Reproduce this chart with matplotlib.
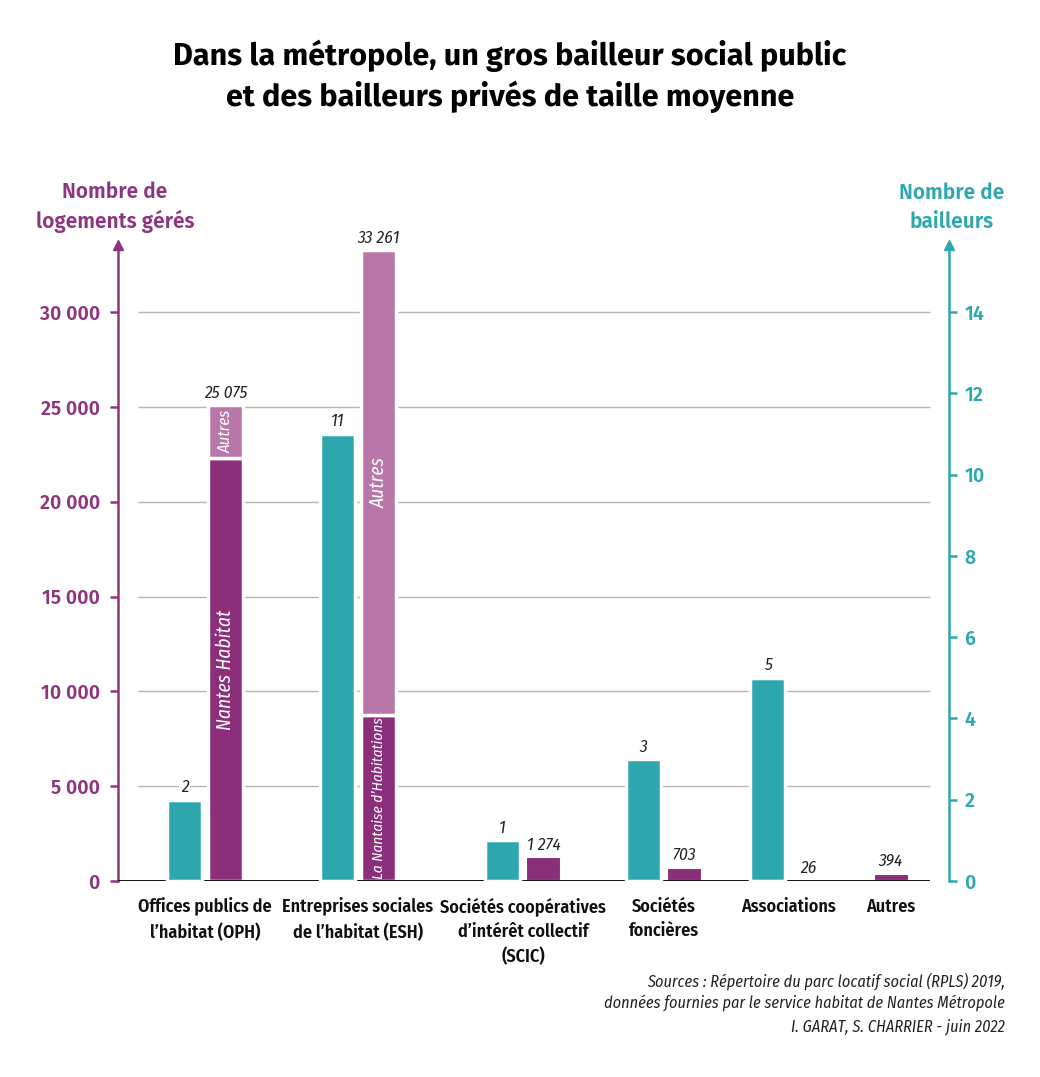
import matplotlib; matplotlib.use("Agg")
import matplotlib.pyplot as plt

# --- data ---
categories = ["Offices publics de\nl'habitat (OPH)", "Entreprises sociales\nde l'habitat (ESH)",
              "Sociétés coopératives\nd'intérêt collectif\n(SCIC)", "Sociétés\nfoncières",
              "Associations", "Autres"]
categories = [c.replace("'", "\u2019") for c in categories]
nb_bailleurs = [2, 11, 1, 3, 5, None]
logements_total = [25075, 33261, 1274, 703, 26, 394]
logements_principal = [22300, 8750, None, None, None, None]   # Nantes Habitat / La Nantaise
principal_names = ["Nantes Habitat", "La Nantaise d\u2019Habitations"]
nb_labels = ["2", "11", "1", "3", "5", ""]
log_labels = ["25 075", "33 261", "1 274", "703", "26", "394"]

# layout (pixel-like x units)
centers = [205, 358, 523, 664, 788, 891]
BW = 35
GAP = 6
TEAL = "#2ea8ae"
PURPLE = "#8b2f7b"
LIGHT = "#b877a8"
AXPURPLE = "#8e3581"
RATIO = 30000 / 14  # logements per bailleur on the shared scale

COND = ["Fira Sans Condensed", "DejaVu Sans"]
AXF = ["Fira Sans", "Lato", "DejaVu Sans"]

fig = plt.figure(figsize=(10.4, 10.77), dpi=100)
ax = fig.add_axes([118 / 1040, 1 - 881 / 1077, (949 - 118) / 1040, (881 - 245) / 1077])
ax2 = ax.twinx()
YMAX = (881 - 245) / (569 / 30000)
ax.set_ylim(0, YMAX)
ax2.set_ylim(0, YMAX / RATIO)
ax.set_xlim(118, 949)

# grid + baseline
for v in range(5000, 30001, 5000):
    ax.hlines(v, 138, 930, color="#b5b5b5", lw=1, zorder=0)
ax.hlines(0, 118, 930, color="black", lw=1.3, zorder=5)

lab_kw = dict(style="italic", fontweight="normal", family=COND, color="#222222", fontsize=12.5)
for i, c in enumerate(centers):
    xt = c - GAP / 2 - BW / 2
    xp = c + GAP / 2 + BW / 2
    if nb_bailleurs[i] is not None:
        ax2.bar(xt, nb_bailleurs[i], width=BW, color=TEAL, edgecolor="white", lw=2.5, zorder=3)
        ax2.text(xt, nb_bailleurs[i] + 0.1, nb_labels[i], ha="center", va="bottom", zorder=4,
                 bbox=dict(fc="white", ec="none", pad=1), **lab_kw)
    if i == len(centers) - 1:
        xp = c
    tot = logements_total[i]
    main = logements_principal[i]
    if main is not None:
        ax.bar(xp, main, width=BW, color=PURPLE, edgecolor="white", lw=2.5, zorder=3)
        ax.bar(xp, tot - main, bottom=main, width=BW, color=LIGHT, edgecolor="white", lw=2.5, zorder=3)
        ax.text(xp, main / 2, principal_names[i], rotation=90, ha="center", va="center",
                color="white", style="italic", fontsize=14 if i == 0 else 11, family=COND, zorder=4)
        ax.text(xp, main + (tot - main) / 2, "Autres", rotation=90, ha="center", va="center",
                color="white", style="italic", fontsize=14 if i == 1 else 12, family=COND, zorder=4)
    else:
        ax.bar(xp, tot, width=BW, color=PURPLE, edgecolor="white", lw=1.5, zorder=3)
    ax.text(xp, tot + 200, log_labels[i], ha="center", va="bottom", zorder=4,
            bbox=dict(fc="white", ec="none", pad=1), **lab_kw)
    ax.text(c, -880, categories[i], ha="center", va="top", fontsize=13, fontweight="semibold",
            color="#111111", linespacing=1.45, family=COND)

# spines & ticks
for s in ["top", "bottom", "right"]:
    ax.spines[s].set_visible(False)
for s in ["top", "bottom", "left"]:
    ax2.spines[s].set_visible(False)
ax.spines["left"].set_color(AXPURPLE); ax.spines["left"].set_linewidth(1.8)
ax2.spines["right"].set_color(TEAL); ax2.spines["right"].set_linewidth(1.8)
ax.set_xticks([])
ax.set_yticks(range(0, 30001, 5000))
ax.set_yticklabels([f"{v:,}".replace(",", " ") for v in range(0, 30001, 5000)])
ax.tick_params(axis="y", colors=AXPURPLE, length=6, width=1.8, pad=7, labelsize=14)
ax2.set_yticks(range(0, 15, 2))
ax2.tick_params(axis="y", colors=TEAL, length=6, width=1.8, pad=5, labelsize=14)
for lab in ax.get_yticklabels() + ax2.get_yticklabels():
    lab.set_fontweight("semibold"); lab.set_family(AXF)

# arrow heads
ax.plot([0], [1], marker="^", ms=7, color=AXPURPLE, transform=ax.transAxes, clip_on=False)
ax2.plot([1], [1], marker="^", ms=7, color=TEAL, transform=ax2.transAxes, clip_on=False)

# axis titles
fig.text(115 / 1040, 1 - 207 / 1077, "Nombre de\nlogements gérés", ha="center", va="center",
         color=AXPURPLE, fontsize=15, fontweight="semibold", family=AXF, linespacing=1.45)
fig.text(952 / 1040, 1 - 207 / 1077, "Nombre de\nbailleurs", ha="center", va="center",
         color=TEAL, fontsize=15, fontweight="semibold", family=AXF, linespacing=1.45)

# title
fig.text(510 / 1040, 1 - 76 / 1077,
         "Dans la métropole, un gros bailleur social public\net des bailleurs privés de taille moyenne",
         ha="center", va="center", fontsize=22, fontweight="bold", family=AXF, linespacing=1.35)

# sources
src_kw = dict(ha="right", va="center", fontsize=11.7, style="italic", fontweight="normal",
              color="#222222", family=COND)
fig.text(1005 / 1040, 1 - 992 / 1077,
         "Sources : Répertoire du parc locatif social (RPLS) 2019,\n"
         "données fournies par le service habitat de Nantes Métropole", linespacing=1.3, **src_kw)
fig.text(1005 / 1040, 1 - 1027 / 1077, "I. GARAT, S. CHARRIER - juin 2022", **src_kw)

fig.savefig("out.png", dpi=100)
